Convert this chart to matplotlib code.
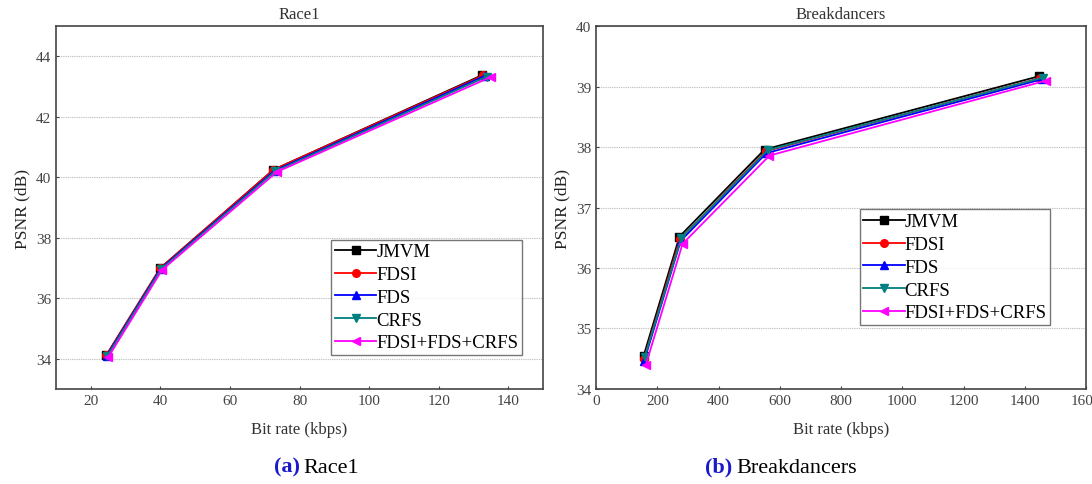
import matplotlib
matplotlib.use("Agg")
import matplotlib.pyplot as plt

plt.rcParams['font.family'] = ['Liberation Serif', 'DejaVu Serif']

methods = ['JMVM', 'FDSI', 'FDS', 'CRFS', 'FDSI+FDS+CRFS']
colors = ['black', 'red', 'blue', '#008080', '#ff00ff']
markers = ['s', 'o', '^', 'v', '<']

# Race1
race_rate = [
    [24.5, 40.0, 72.5, 132.5],
    [24.5, 40.0, 72.5, 132.8],
    [24.6, 40.1, 72.8, 133.3],
    [24.7, 40.2, 73.0, 133.8],
    [25.0, 40.5, 73.5, 135.0],
]
race_psnr = [
    [34.12, 37.00, 40.25, 43.38],
    [34.12, 37.00, 40.25, 43.37],
    [34.10, 36.98, 40.22, 43.36],
    [34.08, 36.96, 40.20, 43.33],
    [34.05, 36.94, 40.18, 43.32],
]

# Breakdancers
bd_rate = [
    [155, 272, 550, 1445],
    [156, 274, 553, 1450],
    [157, 276, 556, 1455],
    [158, 278, 560, 1460],
    [162, 282, 566, 1470],
]
bd_psnr = [
    [34.55, 36.52, 37.96, 39.17],
    [34.50, 36.48, 37.93, 39.14],
    [34.47, 36.45, 37.90, 39.12],
    [34.52, 36.50, 37.95, 39.15],
    [34.40, 36.40, 37.86, 39.10],
]

fig = plt.figure(figsize=(10.92, 4.85), dpi=100)
ax1 = fig.add_axes([0.0513, 0.196, 0.446, 0.748])
ax2 = fig.add_axes([0.546, 0.196, 0.4485, 0.748])


def draw(ax, rates, psnrs, title, xlim, ylim, yticks, xticks, legend_anchor):
    for i, name in enumerate(methods):
        ax.plot(rates[i], psnrs[i], color=colors[i], marker=markers[i],
                markersize=5.5, linewidth=1.3, label=name)
    ax.set_xlim(*xlim)
    ax.set_ylim(*ylim)
    ax.set_yticks(yticks)
    ax.set_xticks(xticks)
    ax.yaxis.grid(True, linestyle=(0, (1.2, 0.8)), color='#c4c4c4', linewidth=0.8)
    ax.set_axisbelow(True)
    ax.tick_params(labelsize=11, colors='#444444', direction='in', length=2)
    for s in ax.spines.values():
        s.set_color('#444444')
        s.set_linewidth(1.2)
    ax.set_title(title, fontsize=12, color='#333333', pad=6)
    ax.set_xlabel('Bit rate (kbps)', fontsize=12, color='#333333', labelpad=10)
    ax.set_ylabel('PSNR (dB)', fontsize=12.5, color='#222222', labelpad=4)
    leg = ax.legend(loc='lower left', bbox_to_anchor=legend_anchor,
                    fontsize=13.5, frameon=True, fancybox=False,
                    handlelength=2.2, handletextpad=0.0, borderpad=0.2,
                    labelspacing=0.3, borderaxespad=0)
    leg.get_frame().set_edgecolor('#555555')
    leg.get_frame().set_linewidth(1.0)


draw(ax1, race_rate, race_psnr, 'Race1', (10, 150), (33, 45),
     [34, 36, 38, 40, 42, 44], [20, 40, 60, 80, 100, 120, 140],
     (0.565, 0.093))
draw(ax2, bd_rate, bd_psnr, 'Breakdancers', (0, 1600), (34, 40),
     [34, 35, 36, 37, 38, 39, 40], [0, 200, 400, 600, 800, 1000, 1200, 1400, 1600],
     (0.538, 0.176))

fig.text(0.2745, 0.025, '(a)', fontsize=16, fontweight='bold', color='#1a1acc',
         ha='right')
fig.text(0.2775, 0.025, 'Race1', fontsize=16, color='black', ha='left')
fig.text(0.671, 0.025, '(b)', fontsize=16, fontweight='bold', color='#1a1acc',
         ha='right')
fig.text(0.674, 0.025, 'Breakdancers', fontsize=16, color='black', ha='left')

fig.savefig('out.png', dpi=100)
